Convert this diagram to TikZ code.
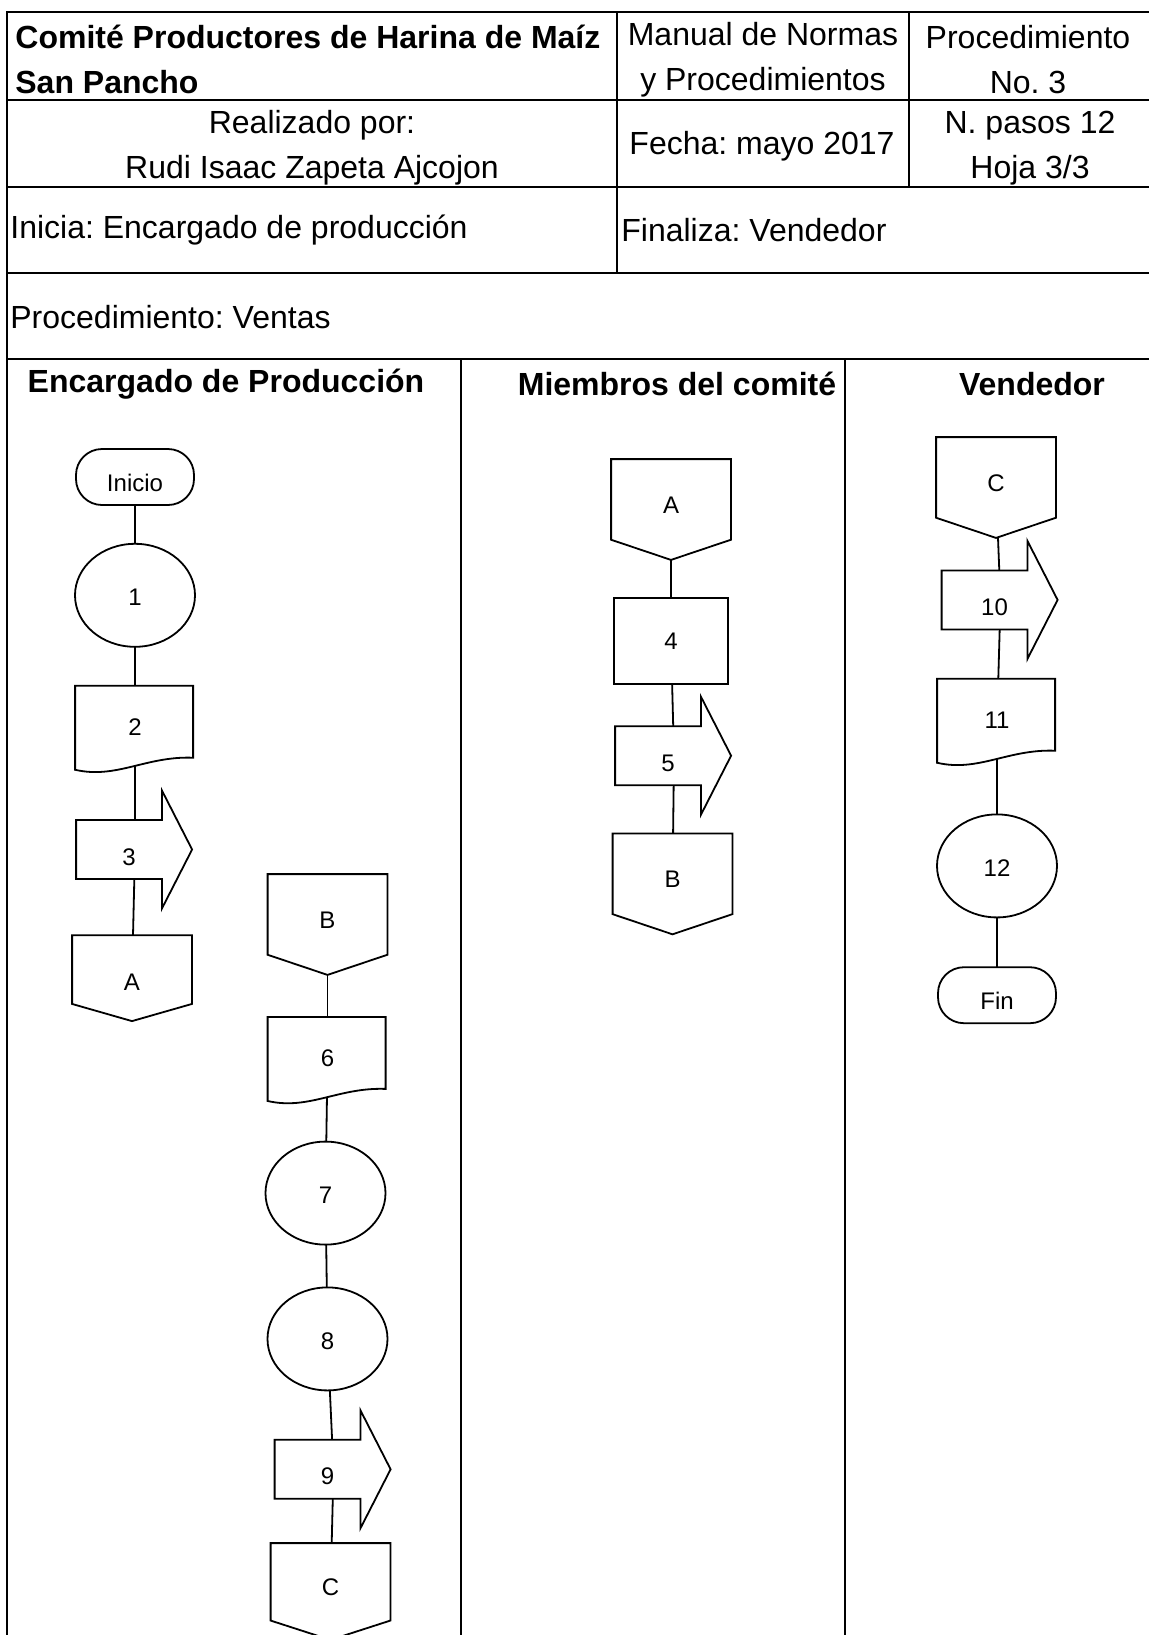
\documentclass[tikz,border=0pt]{standalone}
\usepackage{fontspec}
\setmainfont{Liberation Sans}
\usetikzlibrary{positioning, shapes.geometric, backgrounds, calc}
\frenchspacing

\begin{document}
\begin{tikzpicture}[
    x=0.5pt, y=-0.5pt,
    grid/.style={line width=1.4pt},
    cell/.style={inner sep=0pt, align=center, font=\fontsize{16pt}{22.5pt}\selectfont},
    headbold/.style={cell, font=\fontsize{16pt}{22.5pt}\selectfont\bfseries},
    flow/.style={inner sep=0pt, line width=0.9pt, font=\fontsize{12pt}{14pt}\selectfont},
    termbox/.style={flow, rectangle, rounded corners=13pt, draw, fill=white, minimum width=59pt, minimum height=28pt, text height=14.6pt, text depth=0pt},
    stepellipse/.style={flow, ellipse, draw, fill=white, minimum width=60pt, minimum height=51.5pt, text height=10.6pt, text depth=0pt},
    taskbox/.style={flow, rectangle, draw, fill=white, minimum width=57pt, minimum height=43pt},
    docbox/.style={flow, rectangle, minimum width=59pt, minimum height=45pt, text height=8.6pt, text depth=5pt},
    arrowbox/.style={flow, rectangle, minimum width=58pt, minimum height=59pt, text height=14.6pt, text depth=0pt, execute at begin node={\hspace*{-6pt}}},
    pagebox/.style={flow, rectangle, minimum width=59pt, minimum height=#1, text height=8.6pt, text depth=5pt},
    pagebox/.default=49.5pt,
    link/.style={line width=0.9pt}
]
\useasboundingbox (0,0) rectangle (1148,1635);

% Table
\draw [grid] (7,1640) -- (7,12) -- (1152,12);
\foreach \y in {100,187,273,359}
    \draw [grid] (7,\y) -- (1152,\y);
\draw [grid] (617,12) -- (617,273);
\draw [grid] (909,12) -- (909,187);
\draw [grid] (461,359) -- (461,1640);
\draw [grid] (845,359) -- (845,1640);

% Header texts
\node (Comite) [headbold, anchor=west, align=left] at (15,59) {Comité Productores de Harina de Maíz\\San Pancho};
\node (Manual) [cell] at (763,60) {Manual de Normas\\y Procedimientos};
\node (ProcNo) [cell] at (1028,60) {Procedimiento\\No. 3};
\node (Autor) [cell] at (312,148) {Realizado por:\\Rudi Isaac Zapeta Ajcojon};
\node (Fecha) [cell] at (762,146) {Fecha: mayo 2017};
\node (Pasos) [cell] at (1030,148) {N. pasos 12\\Hoja 3/3};
\node (Inicia) [cell, anchor=west] at (10,230) {Inicia: Encargado de producción};
\node (Finaliza) [cell, anchor=west] at (621,230) {Finaliza: Vendedor};
\node (Proc) [cell, anchor=west] at (10,317) {Procedimiento: Ventas};

% Lanes
\node (LaneProd) [headbold] at (226,384) {Encargado de Producción};
\node (LaneComite) [headbold] at (677,384) {Miembros del comité};
\node (LaneVend) [headbold] at (1032,384) {Vendedor};

% Nodes
\node (Inicio) [termbox] at (135,477) {Inicio};
\node (StepOne) [stepellipse, below=18.5pt of Inicio] {1};
\node (DocTwo) [docbox, below=19pt of StepOne] {2};
\node (SendThree) [arrowbox, below=6.5pt of DocTwo] {3};
\node (LinkA) [pagebox=42pt, below=12.5pt of SendThree, xshift=-1.5pt, text height=12.6pt, text depth=0pt] {A};

\node (LinkB) [pagebox] at (327.5,924.5) {B};
\node (DocSix) [docbox, below=21pt of LinkB] {6};
\node (StepSeven) [stepellipse, below=16pt of DocSix, xshift=-1pt] {7};
\node (StepEight) [stepellipse, below=20.5pt of StepSeven, xshift=1pt] {8};
\node (SendNine) [arrowbox, below=9.5pt of StepEight, xshift=3pt] {9};
\node (LinkC) [pagebox=47.5pt, below=6.5pt of SendNine, xshift=-1.5pt] {C};

\node (InA) [pagebox] at (671,509.5) {A};
\node (TaskFour) [taskbox, below=18.5pt of InA] {4};
\node (SendFive) [arrowbox, below=6pt of TaskFour, xshift=1.5pt] {5};
\node (OutB) [pagebox, below=8.5pt of SendFive, xshift=-0.75pt] {B};

\node (InC) [pagebox] at (996,487.5) {C};
\node (SendTen) [arrowbox, below=1.5pt of InC, xshift=2.25pt] {10};
\node (DocEleven) [docbox, below=9pt of SendTen, xshift=-1.75pt] {11};
\node (StepTwelve) [stepellipse, below=21.5pt of DocEleven] {12};
\node (Fin) [termbox, below=24pt of StepTwelve] {Fin};

\begin{scope}[on background layer]
% Lines
\draw [link] (Inicio.center) -- (StepOne.center);
\draw [link] (StepOne.center) -- (DocTwo.center);
\draw [link] (DocTwo.center) -- (SendThree.center);
\draw [link] (SendThree.center) -- (LinkA.center);
\draw [link] (LinkB.center) -- (DocSix.center);
\draw [link] (DocSix.center) -- (StepSeven.center);
\draw [link] (StepSeven.center) -- (StepEight.center);
\draw [link] (StepEight.center) -- (SendNine.center);
\draw [link] (SendNine.center) -- (LinkC.center);
\draw [link] (InA.center) -- (TaskFour.center);
\draw [link] (TaskFour.center) -- (SendFive.center);
\draw [link] (SendFive.center) -- (OutB.center);
\draw [link] (InC.center) -- (SendTen.center);
\draw [link] (SendTen.center) -- (DocEleven.center);
\draw [link] (DocEleven.center) -- (StepTwelve.center);
\draw [link] (StepTwelve.center) -- (Fin.center);

% Outlines
\foreach \n in {DocTwo, DocSix, DocEleven}
    \draw [link, fill=white, shift={(\n.north west)}, x=59pt, y=-45pt]
        (0,0) -- (1,0) -- (1,0.80) .. controls (0.6,0.78) and (0.35,1.04) .. (0,0.934) -- cycle;
\foreach \n in {SendThree, SendFive, SendNine, SendTen}
    \draw [link, fill=white, shift={(\n.north west)}, x=58pt, y=-59pt]
        (0,0.25) -- (0.74,0.25) -- (0.74,0) -- (1,0.5) -- (0.74,1) -- (0.74,0.75) -- (0,0.75) -- cycle;
\foreach \n in {LinkA, LinkB, LinkC, InA, OutB, InC}
    \draw [link, fill=white] (\n.north west) -- (\n.north east)
        -- ($(\n.north east)!0.8!(\n.south east)$) -- (\n.south)
        -- ($(\n.north west)!0.8!(\n.south west)$) -- cycle;
\end{scope}

\end{tikzpicture}
\end{document}
